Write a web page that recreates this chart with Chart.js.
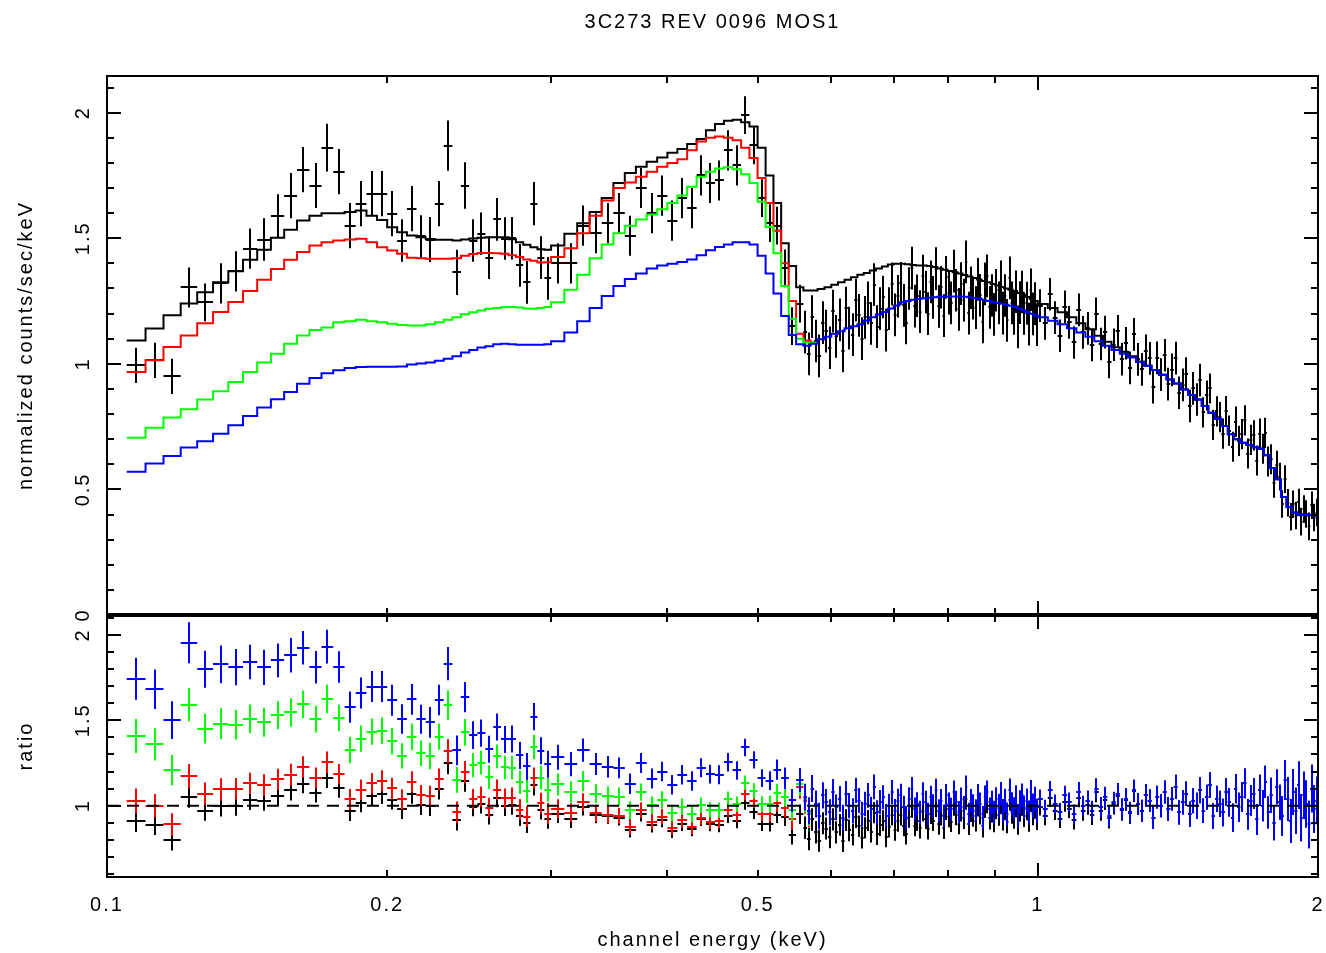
<!DOCTYPE html>
<html>
<head>
<meta charset="utf-8">
<title>3C273 REV 0096 MOS1</title>
<script src="https://cdn.jsdelivr.net/npm/chart.js@4.4.1/dist/chart.umd.min.js"></script>
<style>
  html, body { margin: 0; padding: 0; background: #fff; }
  #wrap { position: relative; width: 1326px; height: 953px; overflow: hidden; }
  #wrap canvas { position: absolute; left: 0; }
  #specChart { top: 0; }
  #ratioChart { top: 600px; }
</style>
</head>
<body>
<div id="wrap">
  <canvas id="specChart" width="1326" height="640"></canvas>
  <canvas id="ratioChart" width="1326" height="353"></canvas>
</div>
<script>
// channel centres (keV) / half widths below 0.56 keV, shared by data and models
const lowEnergy = [
  0.1075,0.1125,0.1175,0.1225,0.1275,0.1325,0.1375,0.1425,0.1475,0.1525,0.1575,0.1625,0.1675,0.1725,0.1775,0.1825,0.1875,0.1925,0.1975,0.2025,
  0.2075,0.2125,0.2175,0.2225,0.2275,0.2325,0.2375,0.2425,0.2475,0.2525,0.2575,0.2625,0.2675,0.2725,0.2775,0.2825,0.2875,0.2925,0.2975,
  0.305,0.315,0.325,0.335,0.345,0.355,0.365,0.375,0.385,0.395,0.405,0.415,0.425,0.435,0.445,0.455,0.465,0.475,0.485,0.495,0.505,0.515,0.525,0.535,0.545,0.555
];
const lowHalf = [
  .0025,.0025,.0025,.0025,.0025,.0025,.0025,.0025,.0025,.0025,.0025,.0025,.0025,.0025,.0025,.0025,.0025,.0025,.0025,.0025,
  .0025,.0025,.0025,.0025,.0025,.0025,.0025,.0025,.0025,.0025,.0025,.0025,.0025,.0025,.0025,.0025,.0025,.0025,.0025,
  .005,.005,.005,.005,.005,.005,.005,.005,.005,.005,.005,.005,.005,.005,.005,.005,.005,.005,.005,.005,.005,.005,.005,.005,.005,.005
];
// model bins above 0.56 keV
const modelHighEnergy = [
  0.565,0.575,0.585,0.595,0.605,0.615,0.625,0.635,0.645,0.655,0.665,0.675,0.685,0.695,0.705,0.715,0.725,0.735,0.745,0.755,0.765,0.775,
  0.785,0.795,0.805,0.815,0.825,0.835,0.845,0.855,0.865,0.875,0.885,0.895,0.905,0.915,0.925,0.935,0.945,0.955,0.965,0.975,0.985,0.995,
  1.0125,1.0375,1.0625,1.0875,1.1125,1.1375,1.1625,1.1875,1.2125,1.2375,1.2625,1.2875,1.3125,1.3375,1.3625,1.3875,1.4125,1.4375,1.4625,1.4875,
  1.5125,1.5375,1.5625,1.5875,1.6125,1.6375,1.6625,1.6875,1.7125,1.7375,1.7625,1.7875,1.8125,1.8375,1.8625,1.8875,1.9125,1.9375,1.9625,1.9875
];
const modelHighHalf = [
  .005,.005,.005,.005,.005,.005,.005,.005,.005,.005,.005,.005,.005,.005,.005,.005,.005,.005,.005,.005,.005,.005,
  .005,.005,.005,.005,.005,.005,.005,.005,.005,.005,.005,.005,.005,.005,.005,.005,.005,.005,.005,.005,.005,.005,
  .0125,.0125,.0125,.0125,.0125,.0125,.0125,.0125,.0125,.0125,.0125,.0125,.0125,.0125,.0125,.0125,.0125,.0125,.0125,.0125,
  .0125,.0125,.0125,.0125,.0125,.0125,.0125,.0125,.0125,.0125,.0125,.0125,.0125,.0125,.0125,.0125,.0125,.0125,.0125,.0125
];
// data channels above 0.56 keV
const dataHighEnergy = [
  0.5625,0.5675,0.5725,0.5775,0.5825,0.5875,0.5925,0.5975,0.6025,0.6075,0.6125,0.6175,0.6225,0.6275,0.6325,0.6375,0.6425,0.6475,0.6525,0.6575,
  0.6625,0.6675,0.6725,0.6775,0.6825,0.6875,0.6925,0.6975,0.7025,0.7075,0.7125,0.7175,0.7225,0.7275,0.7325,0.7375,0.7425,0.7475,0.7525,0.7575,
  0.7625,0.7675,0.7725,0.7775,0.7825,0.7875,0.7925,0.7975,0.8025,0.8075,0.8125,0.8175,0.8225,0.8275,0.8325,0.8375,0.8425,0.8475,0.8525,0.8575,
  0.8625,0.8675,0.8725,0.8775,0.8825,0.8875,0.8925,0.8975,0.9025,0.9075,0.9125,0.9175,0.9225,0.9275,0.9325,0.9375,0.9425,0.9475,0.9525,0.9575,
  0.9625,0.9675,0.9725,0.9775,0.9825,0.9875,0.9925,0.9975,
  1.00625,1.01875,1.03125,1.04375,1.05625,1.06875,1.08125,1.09375,1.10625,1.11875,1.13125,1.14375,1.15625,1.16875,1.18125,1.19375,
  1.20625,1.21875,1.23125,1.24375,1.25625,1.26875,1.28125,1.29375,1.30625,1.31875,1.33125,1.34375,1.35625,1.36875,1.38125,1.39375,
  1.40625,1.41875,1.43125,1.44375,1.45625,1.46875,1.48125,1.49375,1.50625,1.51875,1.53125,1.54375,1.55625,1.56875,1.58125,1.59375,
  1.60625,1.61875,1.63125,1.64375,1.65625,1.66875,1.68125,1.69375,1.70625,1.71875,1.73125,1.74375,1.75625,1.76875,1.78125,1.79375,
  1.80625,1.81875,1.83125,1.84375,1.85625,1.86875,1.88125,1.89375,1.90625,1.91875,1.93125,1.94375,1.95625,1.96875,1.98125,1.99375
];
const dataHighHalf = [
  .0025,.0025,.0025,.0025,.0025,.0025,.0025,.0025,.0025,.0025,.0025,.0025,.0025,.0025,.0025,.0025,.0025,.0025,.0025,.0025,
  .0025,.0025,.0025,.0025,.0025,.0025,.0025,.0025,.0025,.0025,.0025,.0025,.0025,.0025,.0025,.0025,.0025,.0025,.0025,.0025,
  .0025,.0025,.0025,.0025,.0025,.0025,.0025,.0025,.0025,.0025,.0025,.0025,.0025,.0025,.0025,.0025,.0025,.0025,.0025,.0025,
  .0025,.0025,.0025,.0025,.0025,.0025,.0025,.0025,.0025,.0025,.0025,.0025,.0025,.0025,.0025,.0025,.0025,.0025,.0025,.0025,
  .0025,.0025,.0025,.0025,.0025,.0025,.0025,.0025,
  .00625,.00625,.00625,.00625,.00625,.00625,.00625,.00625,.00625,.00625,.00625,.00625,.00625,.00625,.00625,.00625,
  .00625,.00625,.00625,.00625,.00625,.00625,.00625,.00625,.00625,.00625,.00625,.00625,.00625,.00625,.00625,.00625,
  .00625,.00625,.00625,.00625,.00625,.00625,.00625,.00625,.00625,.00625,.00625,.00625,.00625,.00625,.00625,.00625,
  .00625,.00625,.00625,.00625,.00625,.00625,.00625,.00625,.00625,.00625,.00625,.00625,.00625,.00625,.00625,.00625,
  .00625,.00625,.00625,.00625,.00625,.00625,.00625,.00625,.00625,.00625,.00625,.00625,.00625,.00625,.00625,.00625
];

// normalized counts/sec/keV (black data) and errors
const counts = [
  0.994,1.014,0.950,1.304,1.245,1.320,1.368,1.459,1.495,1.590,1.670,1.773,1.710,1.861,1.765,1.550,1.638,1.678,1.678,1.598,
  1.491,1.618,1.507,1.495,1.638,1.869,1.364,1.710,1.491,1.518,1.423,1.575,1.499,1.500,1.392,1.324,1.638,1.423,1.340,
  1.40,1.40,1.55,1.52,1.56,1.60,1.51,1.70,1.60,1.67,1.57,1.66,1.62,1.75,1.72,1.73,1.85,1.79,1.99,1.87,1.66,1.56,1.55,1.38,1.15,1.24,
  1.126,1.040,1.188,1.091,1.032,1.164,1.130,1.064,1.210,1.109,1.175,1.051,1.222,1.142,1.116,1.254,1.193,1.100,1.185,1.243,
  1.161,1.315,1.148,1.220,1.266,1.134,1.220,1.318,1.195,1.269,1.320,1.233,1.163,1.300,1.381,1.230,1.271,1.208,1.349,1.286,
  1.200,1.326,1.265,1.379,1.229,1.305,1.192,1.344,1.281,1.243,1.369,1.293,1.217,1.319,1.254,1.406,1.202,1.303,1.262,1.224,
  1.336,1.273,1.167,1.318,1.350,1.225,1.272,1.197,1.293,1.243,1.326,1.202,1.272,1.173,1.342,1.243,1.201,1.287,1.147,1.244,
  1.286,1.201,1.242,1.158,1.295,1.199,1.240,1.156,
  1.232,1.161,1.277,1.184,1.112,1.227,1.165,1.085,1.215,1.125,1.141,1.075,1.199,1.079,1.126,1.008,1.076,1.129,1.019,1.082,
  0.984,1.117,1.018,0.978,1.052,1.022,0.907,1.024,0.957,1.034,0.919,0.976,1.023,0.885,0.916,0.961,0.832,0.902,0.858,0.935,
  0.807,0.874,0.902,0.757,0.811,0.788,0.722,0.812,0.734,0.670,0.770,0.693,0.720,0.775,0.643,0.697,0.715,0.615,0.722,0.662,
  0.725,0.611,0.620,0.527,0.599,0.551,0.442,0.541,0.447,0.391,0.441,0.396,0.448,0.372,0.422,0.402,0.353,0.437,0.388,0.408
];
const countsErr = [
  .07,.07,.07,.08,.075,.08,.08,.08,.085,.085,.09,.09,.09,.095,.09,.09,.09,.09,.09,.09,
  .085,.09,.085,.09,.09,.1,.09,.093,.085,.085,.085,.085,.085,.085,.085,.085,.086,.085,.085,
  .08,.08,.08,.08,.08,.08,.08,.08,.08,.08,.08,.08,.08,.08,.08,.08,.08,.08,.075,.075,.075,.075,.075,.075,.075,.075,
  .085,.085,.085,.085,.085,.085,.085,.085,.085,.085,.085,.085,.085,.085,.085,.085,.085,.085,.085,.085,
  .085,.085,.085,.085,.085,.085,.085,.085,.085,.085,.085,.085,.085,.085,.085,.085,.085,.085,.085,.085,
  .085,.085,.085,.085,.085,.085,.085,.085,.085,.085,.085,.085,.085,.085,.085,.085,.085,.085,.085,.085,
  .085,.085,.085,.085,.085,.085,.085,.085,.085,.085,.085,.085,.085,.085,.085,.085,.085,.085,.085,.085,
  .085,.085,.085,.085,.085,.085,.085,.085,
  .065,.065,.065,.065,.065,.065,.065,.065,.065,.065,.065,.065,.065,.065,.065,.065,.065,.065,.065,.065,
  .065,.065,.065,.065,.065,.065,.065,.065,.065,.065,.065,.065,.065,.065,.065,.065,.065,.065,.065,.065,
  .06,.06,.06,.06,.06,.06,.06,.06,.06,.06,.06,.06,.06,.06,.06,.06,.06,.06,.06,.06,
  .06,.06,.06,.06,.055,.055,.055,.055,.055,.055,.055,.055,.055,.055,.055,.055,.055,.055,.055,.055
];

// folded models (model bins)
const modelBlack = [
  1.093,1.141,1.193,1.240,1.285,1.325,1.369,1.414,1.454,1.502,1.534,1.571,1.590,1.600,1.600,1.605,1.610,1.590,1.573,1.544,
  1.524,1.511,1.504,1.497,1.494,1.494,1.491,1.495,1.499,1.502,1.504,1.504,1.504,1.496,1.484,1.474,1.464,1.456,1.454,
  1.471,1.518,1.560,1.605,1.660,1.720,1.760,1.785,1.805,1.822,1.840,1.855,1.875,1.895,1.930,1.955,1.968,1.972,1.962,1.945,1.860,1.750,1.640,1.480,1.390,1.305,
  1.292,1.292,1.298,1.305,1.315,1.325,1.335,1.345,1.355,1.362,1.372,1.380,1.388,1.395,1.398,1.398,1.396,1.394,1.392,1.392,1.390,1.386,1.380,1.375,
  1.370,1.365,1.360,1.354,1.348,1.342,1.336,1.330,1.325,1.318,1.312,1.306,1.300,1.295,1.290,1.282,1.275,1.266,1.258,1.250,
  1.238,1.222,1.205,1.185,1.162,1.138,1.112,1.088,1.066,1.048,1.030,1.008,0.992,0.975,0.957,0.938,0.922,0.898,0.876,0.858,
  0.832,0.805,0.780,0.752,0.720,0.700,0.686,0.677,0.668,0.662,0.636,0.585,0.540,0.470,0.430,0.408,0.400,0.398,0.397,0.396
];
const modelRed = [
  0.967,1.014,1.067,1.113,1.162,1.206,1.246,1.290,1.335,1.378,1.414,1.445,1.471,1.484,1.491,1.495,1.498,1.484,1.464,1.451,
  1.438,1.422,1.420,1.418,1.418,1.418,1.420,1.430,1.437,1.441,1.441,1.440,1.438,1.432,1.425,1.415,1.410,1.403,1.404,
  1.425,1.460,1.520,1.590,1.650,1.700,1.722,1.745,1.765,1.785,1.800,1.815,1.850,1.885,1.900,1.905,1.900,1.890,1.860,1.820,1.740,1.640,1.530,1.400,1.250,1.120,
  1.093,1.085
];
const modelGreen = [
  0.706,0.746,0.786,0.819,0.858,0.891,0.928,0.967,1.005,1.040,1.080,1.113,1.135,1.145,1.166,1.170,1.176,1.170,1.166,1.160,
  1.155,1.153,1.153,1.158,1.166,1.176,1.185,1.197,1.205,1.212,1.219,1.222,1.225,1.226,1.224,1.220,1.219,1.222,1.226,
  1.245,1.295,1.355,1.420,1.475,1.520,1.550,1.575,1.595,1.615,1.640,1.670,1.705,1.745,1.765,1.778,1.783,1.775,1.755,1.720,1.645,1.545,1.440,1.310,1.180,1.100,
  1.085,1.082
];
const modelBlue = [
  0.570,0.603,0.633,0.667,0.692,0.722,0.755,0.792,0.826,0.859,0.888,0.921,0.944,0.963,0.974,0.983,0.987,0.988,0.988,0.988,
  0.989,0.997,1.001,1.005,1.012,1.020,1.030,1.045,1.055,1.065,1.070,1.078,1.080,1.078,1.076,1.076,1.076,1.076,1.078,
  1.090,1.125,1.170,1.222,1.270,1.310,1.338,1.360,1.380,1.392,1.398,1.405,1.415,1.432,1.452,1.465,1.475,1.484,1.484,1.475,1.430,1.360,1.280,1.190,1.115,1.078,
  1.072,1.080,1.098,1.108,1.120,1.130,1.142,1.150,1.158,1.173,1.185,1.196,1.206,1.220,1.232,1.245,1.250,1.255,1.258,1.261,1.263,1.265,1.267,1.268,
  1.268,1.268,1.268,1.267,1.265,1.262,1.260,1.255,1.250,1.247,1.243,1.239,1.235,1.231,1.226,1.220,1.213,1.206,1.199,1.192,
  1.185,1.172,1.158,1.142,1.125,1.108,1.090,1.072,1.055,1.040,1.025,1.008,0.992,0.975,0.957,0.938,0.922,0.898,0.876,0.858,
  0.832,0.805,0.780,0.752,0.720,0.700,0.686,0.677,0.668,0.662,0.636,0.585,0.540,0.470,0.430,0.408,0.400,0.398,0.397,0.396
];

// data / model ratios (data channels) and their errors
const ratioBlack = [
  0.909,0.889,0.796,1.052,0.969,0.996,0.999,1.032,1.028,1.059,1.089,1.129,1.075,1.163,1.103,0.966,1.017,1.055,1.067,1.035,
  0.978,1.071,1.002,0.999,1.096,1.251,0.915,1.144,0.995,1.011,0.946,1.047,0.997,1.003,0.938,0.898,1.119,0.977,0.922,
  0.952,0.922,0.994,0.947,0.940,0.930,0.858,0.952,0.886,0.917,0.853,0.895,0.864,0.923,0.891,0.885,0.940,0.908,1.014,0.961,0.892,0.891,0.945,0.932,0.827,0.950,
  0.871,0.805,0.919,0.844,0.795,0.897,0.866,0.815,0.920,0.843,0.887,0.793,0.915,0.855,0.829,0.932,0.880,0.812,0.870,0.913,
  0.846,0.959,0.832,0.884,0.912,0.817,0.875,0.945,0.855,0.908,0.944,0.882,0.833,0.931,0.990,0.882,0.913,0.868,0.969,0.924,
  0.863,0.954,0.913,0.995,0.891,0.946,0.867,0.978,0.935,0.907,1.003,0.947,0.895,0.970,0.926,1.039,0.891,0.967,0.940,0.912,
  1.000,0.953,0.878,0.991,1.019,0.925,0.965,0.908,0.985,0.947,1.015,0.920,0.979,0.903,1.036,0.960,0.931,0.998,0.895,0.971,
  1.008,0.942,0.981,0.914,1.029,0.953,0.992,0.925,
  0.995,0.938,1.045,0.969,0.923,1.019,0.983,0.916,1.046,0.968,1.003,0.944,1.078,0.970,1.035,0.926,1.009,1.059,0.973,1.032,
  0.955,1.085,1.010,0.970,1.06,1.03,0.93,1.05,1.00,1.08,0.98,1.04,1.11,0.96,1.02,1.07,0.95,1.03,1.00,1.09,
  0.97,1.05,1.12,0.94,1.04,1.01,0.96,1.08,1.02,0.93,1.10,0.99,1.05,1.13,0.95,1.03,1.07,0.92,1.09,1.00,
  1.14,0.96,1.06,0.90,1.11,1.02,0.94,1.15,1.04,0.91,1.08,0.97,1.12,0.93,1.06,1.01,0.89,1.10,0.98,1.03
];
const ratioRed = [
  1.028,1.000,0.890,1.172,1.071,1.095,1.098,1.131,1.120,1.154,1.181,1.227,1.162,1.254,1.184,1.037,1.093,1.131,1.146,1.101,
  1.037,1.138,1.061,1.054,1.155,1.318,0.961,1.196,1.038,1.053,0.988,1.094,1.042,1.047,0.977,0.936,1.162,1.014,0.954,
  0.982,0.959,1.020,0.956,0.945,0.941,0.877,0.974,0.907,0.936,0.872,0.915,0.876,0.928,0.905,0.908,0.974,0.947,1.070,1.027,0.954,0.951,1.013,0.986,0.920,1.107,
  1.030,0.951
];
const ratioGreen = [
  1.408,1.359,1.209,1.592,1.451,1.481,1.474,1.509,1.488,1.529,1.546,1.593,1.507,1.625,1.514,1.325,1.393,1.434,1.439,1.378,
  1.291,1.403,1.307,1.291,1.405,1.589,1.151,1.429,1.237,1.252,1.167,1.289,1.224,1.223,1.137,1.085,1.344,1.164,1.093,
  1.124,1.081,1.144,1.070,1.058,1.053,0.974,1.079,1.003,1.034,0.957,0.994,0.950,1.003,0.975,0.973,1.038,1.008,1.134,1.087,1.009,1.010,1.076,1.053,0.975,1.127,
  1.038,0.959
];
const ratioBlue = [
  1.744,1.682,1.501,1.955,1.799,1.828,1.812,1.842,1.810,1.851,1.881,1.925,1.811,1.932,1.812,1.577,1.660,1.698,1.698,1.617,
  1.508,1.623,1.506,1.488,1.619,1.832,1.324,1.636,1.413,1.425,1.330,1.461,1.388,1.391,1.294,1.230,1.522,1.322,1.243,
  1.284,1.244,1.325,1.244,1.228,1.221,1.129,1.250,1.159,1.200,1.123,1.181,1.145,1.222,1.185,1.181,1.254,1.206,1.341,1.268,1.161,1.147,1.211,1.160,1.031,1.150,
  1.05,0.97,1.10,1.01,0.94,1.06,1.02,0.96,1.08,0.99,1.04,0.93,1.07,1.00,0.97,1.09,1.03,0.95,1.01,1.06,
  0.98,1.11,0.96,1.02,1.05,0.94,1.00,1.08,0.97,1.03,1.06,0.99,0.93,1.04,1.10,0.98,1.01,0.96,1.07,1.02,
  0.95,1.05,1.00,1.09,0.97,1.03,0.94,1.06,1.01,0.98,1.08,1.02,0.96,1.04,0.99,1.11,0.95,1.03,1.00,0.97,
  1.06,1.01,0.93,1.05,1.08,0.98,1.02,0.96,1.04,1.00,1.07,0.97,1.03,0.95,1.09,1.01,0.98,1.05,0.94,1.02,
  1.06,0.99,1.03,0.96,1.08,1.00,1.04,0.97,
  1.04,0.98,1.09,1.01,0.96,1.06,1.02,0.95,1.08,1.00,1.03,0.97,1.10,0.99,1.05,0.94,1.02,1.07,0.98,1.04,
  0.96,1.09,1.01,0.97,1.06,1.03,0.93,1.05,1.00,1.08,0.98,1.04,1.11,0.96,1.02,1.07,0.95,1.03,1.00,1.09,
  0.97,1.05,1.12,0.94,1.04,1.01,0.96,1.08,1.02,0.93,1.10,0.99,1.05,1.13,0.95,1.03,1.07,0.92,1.09,1.00,
  1.14,0.96,1.06,0.90,1.11,1.02,0.94,1.15,1.04,0.91,1.08,0.97,1.12,0.93,1.06,1.01,0.89,1.10,0.98,1.03
];
const ratioErrBlack = [
  .064,.061,.059,.065,.058,.060,.058,.057,.058,.057,.059,.057,.057,.059,.056,.056,.056,.057,.057,.058,
  .056,.060,.057,.060,.060,.067,.060,.062,.057,.057,.057,.057,.057,.057,.057,.058,.059,.058,.058,
  .054,.053,.051,.050,.048,.047,.045,.045,.044,.044,.043,.043,.043,.042,.041,.041,.041,.041,.038,.039,.040,.043,.046,.051,.054,.057,
  .066,.066,.066,.066,.065,.065,.065,.065,.065,.065,.064,.064,.064,.064,.063,.063,.063,.063,.062,.062,
  .062,.062,.062,.062,.061,.061,.061,.061,.061,.061,.061,.061,.061,.061,.061,.061,.061,.061,.061,.061,
  .061,.061,.061,.061,.062,.062,.062,.062,.062,.062,.062,.062,.063,.063,.063,.063,.063,.063,.063,.063,
  .064,.064,.064,.064,.064,.064,.064,.064,.065,.065,.065,.065,.065,.065,.066,.066,.066,.066,.066,.066,
  .067,.067,.067,.067,.068,.068,.068,.068,
  .053,.053,.053,.053,.054,.054,.055,.055,.056,.056,.057,.057,.058,.058,.060,.060,.061,.061,.062,.062,
  .063,.063,.064,.064,.066,.066,.067,.067,.068,.068,.069,.069,.071,.071,.072,.072,.074,.074,.076,.076,
  .072,.072,.075,.075,.077,.077,.080,.080,.083,.083,.086,.086,.087,.087,.089,.089,.090,.090,.091,.091,
  .094,.094,.103,.103,.102,.102,.117,.117,.128,.128,.135,.135,.138,.138,.138,.138,.139,.139,.139,.139
];
const ratioErrRed = [
  .072,.069,.066,.072,.065,.066,.064,.062,.064,.062,.064,.062,.061,.064,.060,.060,.060,.061,.061,.062,
  .059,.063,.060,.063,.063,.071,.063,.065,.059,.059,.059,.059,.059,.059,.060,.060,.061,.061,.061,
  .056,.055,.053,.050,.048,.047,.046,.046,.045,.045,.044,.044,.043,.042,.042,.042,.042,.042,.040,.041,.043,.046,.049,.054,.060,.067,
  .078,.078
];
const ratioErrGreen = [
  .099,.094,.089,.098,.087,.090,.086,.083,.085,.082,.083,.081,.079,.083,.077,.077,.077,.077,.077,.078,
  .074,.078,.074,.078,.077,.085,.076,.078,.071,.070,.070,.070,.069,.069,.069,.070,.071,.070,.069,
  .064,.062,.059,.056,.054,.053,.052,.051,.050,.050,.049,.048,.047,.046,.045,.045,.045,.045,.043,.044,.046,.049,.052,.057,.064,.068,
  .078,.078
];
const ratioErrBlue = [
  .123,.116,.111,.120,.108,.111,.106,.101,.103,.099,.101,.098,.095,.099,.092,.092,.091,.091,.091,.091,
  .086,.090,.085,.090,.089,.098,.087,.089,.081,.080,.079,.079,.079,.079,.079,.079,.080,.079,.079,
  .073,.071,.068,.065,.063,.061,.060,.059,.058,.057,.057,.057,.057,.056,.055,.055,.054,.054,.051,.051,.052,.055,.059,.063,.067,.070,
  .079,.079,.079,.079,.077,.077,.077,.077,.076,.076,.075,.075,.074,.074,.074,.074,.073,.073,.072,.072,
  .072,.072,.071,.071,.070,.070,.070,.070,.069,.069,.068,.068,.068,.068,.068,.068,.068,.068,.067,.067,
  .067,.067,.067,.067,.067,.067,.067,.067,.067,.067,.067,.067,.067,.067,.067,.067,.067,.067,.067,.067,
  .067,.067,.068,.068,.068,.068,.068,.068,.068,.068,.069,.069,.069,.069,.069,.069,.069,.069,.070,.070,
  .070,.070,.070,.070,.071,.071,.071,.071,
  .055,.055,.055,.055,.056,.056,.057,.057,.058,.058,.059,.059,.060,.060,.061,.061,.062,.062,.063,.063,
  .063,.063,.064,.064,.066,.066,.067,.067,.068,.068,.069,.069,.071,.071,.072,.072,.074,.074,.076,.076,
  .072,.072,.075,.075,.077,.077,.080,.080,.083,.083,.086,.086,.087,.087,.089,.089,.090,.090,.091,.091,
  .094,.094,.103,.103,.102,.102,.117,.117,.128,.128,.135,.135,.138,.138,.138,.138,.139,.139,.139,.139
];
const unityLine = [1, 1];

// axis ticks and labels
const xTickValues = [0.2, 0.3, 0.4, 0.5, 0.6, 0.7, 0.8, 0.9, 1];
const xMajorTicks = [1];
const xLabelValues = [0.1, 0.2, 0.5, 1, 2];
const specYTicks = [0,0.1,0.2,0.3,0.4,0.5,0.6,0.7,0.8,0.9,1,1.1,1.2,1.3,1.4,1.5,1.6,1.7,1.8,1.9,2,2.1];
const specYMajor = [0, 0.5, 1, 1.5, 2];
const specYLabels = ['0', '0.5', '1', '1.5', '2'];
const ratioYTicks = [0.6,0.7,0.8,0.9,1,1.1,1.2,1.3,1.4,1.5,1.6,1.7,1.8,1.9,2,2.1];
const ratioYMajor = [1, 1.5, 2];
const ratioYLabels = ['1', '1.5', '2'];

const modelEnergy = lowEnergy.concat(modelHighEnergy);
const modelHalf = lowHalf.concat(modelHighHalf);
const dataEnergy = lowEnergy.concat(dataHighEnergy);
const dataHalf = lowHalf.concat(dataHighHalf);

const FONT = "'Liberation Sans', Arial, sans-serif";
Chart.defaults.font.family = FONT;
Chart.defaults.font.size = 20;
Chart.defaults.color = '#000';

function crossPoints(vals, errs) {
  return vals.map((v, i) => ({ x: dataEnergy[i], y: v, w: dataHalf[i], e: errs[i] }));
}
function stepPoints(vals) {
  const pts = vals.map((v, i) => ({ x: modelEnergy[i] - modelHalf[i], y: v }));
  const n = vals.length - 1;
  pts.push({ x: modelEnergy[n] + modelHalf[n], y: vals[n] });
  return pts;
}

// wide letter spacing like the PGPLOT font
const spacing = {
  id: 'spacing',
  beforeDraw(chart) { chart.ctx.letterSpacing = '2px'; }
};

// error-bar crosses
const crosses = {
  id: 'crosses',
  afterDatasetDraw(chart, args) {
    const ds = chart.data.datasets[args.index];
    if (!ds.crossBars) return;
    const xs = chart.scales.x, ys = chart.scales.y, a = chart.chartArea, ctx = chart.ctx;
    ctx.save();
    ctx.beginPath();
    ctx.rect(a.left, a.top, a.right - a.left, a.bottom - a.top);
    ctx.clip();
    ctx.strokeStyle = ds.borderColor;
    ctx.lineWidth = 2;
    ctx.beginPath();
    ds.data.forEach(p => {
      const xc = Math.round(xs.getPixelForValue(p.x));
      const yc = Math.round(ys.getPixelForValue(p.y));
      ctx.moveTo(xs.getPixelForValue(p.x - p.w), yc);
      ctx.lineTo(xs.getPixelForValue(p.x + p.w), yc);
      ctx.moveTo(xc, ys.getPixelForValue(p.y - p.e));
      ctx.lineTo(xc, ys.getPixelForValue(p.y + p.e));
    });
    ctx.stroke();
    ctx.restore();
  }
};

// frame, inward ticks and rotated y labels
const frame = {
  id: 'frame',
  afterDraw(chart, args, opts) {
    const xs = chart.scales.x, ys = chart.scales.y, ctx = chart.ctx;
    const { left, right, top, bottom } = chart.chartArea;
    ctx.save();
    ctx.strokeStyle = '#000';
    ctx.lineWidth = 2;
    ctx.beginPath();
    xTickValues.forEach(v => {
      const px = Math.round(xs.getPixelForValue(v));
      const len = xMajorTicks.includes(v) ? 14 : 7;
      ctx.moveTo(px, top); ctx.lineTo(px, top + len);
      ctx.moveTo(px, bottom); ctx.lineTo(px, bottom - len);
    });
    opts.yTicks.forEach(v => {
      const py = Math.round(ys.getPixelForValue(v));
      const len = opts.yMajor.includes(v) ? 14 : 7;
      ctx.moveTo(left, py); ctx.lineTo(left + len, py);
      ctx.moveTo(right, py); ctx.lineTo(right - len, py);
    });
    ctx.moveTo(left, top); ctx.lineTo(left, bottom);
    ctx.moveTo(right, top); ctx.lineTo(right, bottom);
    ctx.stroke();
    ctx.lineWidth = opts.topWidth;
    ctx.beginPath(); ctx.moveTo(left - 1, top); ctx.lineTo(right + 1, top); ctx.stroke();
    ctx.lineWidth = opts.bottomWidth;
    ctx.beginPath(); ctx.moveTo(left - 1, bottom); ctx.lineTo(right + 1, bottom); ctx.stroke();

    ctx.fillStyle = '#000';
    ctx.font = '20px ' + FONT;
    ctx.textAlign = 'center';
    ctx.textBaseline = 'middle';
    opts.yLabels.forEach((txt, i) => {
      const py = ys.getPixelForValue(opts.yMajor[i]);
      ctx.save();
      ctx.translate(left - 24, py);
      ctx.rotate(-Math.PI / 2);
      ctx.fillText(txt, 0, 0);
      ctx.restore();
    });
    ctx.restore();
  }
};

const xBase = {
  type: 'logarithmic', min: 0.1, max: 2,
  afterBuildTicks: s => { s.ticks = xLabelValues.map(v => ({ value: v })); },
  grid: { display: false, drawTicks: false },
  border: { display: false }
};

new Chart(document.getElementById('specChart'), {
  type: 'scatter',
  data: {
    datasets: [
      { type: 'line', label: 'model 4', data: stepPoints(modelBlue), borderColor: '#0000ff', borderWidth: 2, pointRadius: 0, stepped: 'before', order: 0 },
      { type: 'line', label: 'model 3', data: stepPoints(modelGreen), borderColor: '#00ff00', borderWidth: 2, pointRadius: 0, stepped: 'before', order: 1 },
      { type: 'line', label: 'model 2', data: stepPoints(modelRed), borderColor: '#ff0000', borderWidth: 2, pointRadius: 0, stepped: 'before', order: 2 },
      { type: 'line', label: 'model 1', data: stepPoints(modelBlack), borderColor: '#000000', borderWidth: 2, pointRadius: 0, stepped: 'before', order: 3 },
      { label: 'data', data: crossPoints(counts, countsErr), borderColor: '#000000', pointRadius: 0, crossBars: true, order: 4 }
    ]
  },
  options: {
    responsive: false, animation: false, events: [],
    layout: { padding: { left: 0, right: 8, top: 0, bottom: 25 } },
    plugins: {
      legend: { display: false }, tooltip: { enabled: false },
      frame: { yTicks: specYTicks, yMajor: specYMajor, yLabels: specYLabels, topWidth: 2, bottomWidth: 4 }
    },
    scales: {
      x: Object.assign({}, xBase, {
        position: 'top',
        ticks: { display: false },
        title: { display: true, text: '3C273 REV 0096 MOS1', padding: { top: 10, bottom: 0 } },
        afterFit: s => { s.height = 76; s.paddingLeft = 0; s.paddingRight = 0; }
      }),
      y: {
        type: 'linear', min: 0, max: 2.146, position: 'left',
        ticks: { display: false }, grid: { display: false, drawTicks: false }, border: { display: false },
        title: { display: true, text: 'normalized counts/sec/keV', padding: { top: 14 } },
        afterFit: s => { s.width = 107; }
      }
    }
  },
  plugins: [spacing, crosses, frame]
});

new Chart(document.getElementById('ratioChart'), {
  type: 'scatter',
  data: {
    datasets: [
      { type: 'line', label: 'unity', data: [{ x: 0.1, y: unityLine[0] }, { x: 2, y: unityLine[1] }], borderColor: '#000000', borderWidth: 2, borderDash: [12, 8], pointRadius: 0, order: -1 },
      { label: 'ratio 4', data: crossPoints(ratioBlue, ratioErrBlue), borderColor: '#0000ff', pointRadius: 0, crossBars: true, order: 0 },
      { label: 'ratio 3', data: crossPoints(ratioGreen, ratioErrGreen), borderColor: '#00ff00', pointRadius: 0, crossBars: true, order: 1 },
      { label: 'ratio 2', data: crossPoints(ratioRed, ratioErrRed), borderColor: '#ff0000', pointRadius: 0, crossBars: true, order: 2 },
      { label: 'ratio 1', data: crossPoints(ratioBlack, ratioErrBlack), borderColor: '#000000', pointRadius: 0, crossBars: true, order: 3 }
    ]
  },
  options: {
    responsive: false, animation: false, events: [],
    layout: { padding: { left: 0, right: 8, top: 15, bottom: 0 } },
    plugins: {
      legend: { display: false }, tooltip: { enabled: false },
      frame: { yTicks: ratioYTicks, yMajor: ratioYMajor, yLabels: ratioYLabels, topWidth: 4, bottomWidth: 2 }
    },
    scales: {
      x: Object.assign({}, xBase, {
        position: 'bottom',
        ticks: {
          display: true, autoSkip: false, maxRotation: 0, minRotation: 0, padding: 16,
          callback: v => (xLabelValues.includes(v) ? String(v) : '')
        },
        title: { display: true, text: 'channel energy (keV)', padding: { top: 0, bottom: 1 } },
        afterFit: s => { s.height = 76; s.paddingLeft = 0; s.paddingRight = 0; }
      }),
      y: {
        type: 'linear', min: 0.582, max: 2.117, position: 'left',
        ticks: { display: false }, grid: { display: false, drawTicks: false }, border: { display: false },
        title: { display: true, text: 'ratio', padding: { top: 14 } },
        afterFit: s => { s.width = 107; }
      }
    }
  },
  plugins: [spacing, crosses, frame]
});
</script>
</body>
</html>
